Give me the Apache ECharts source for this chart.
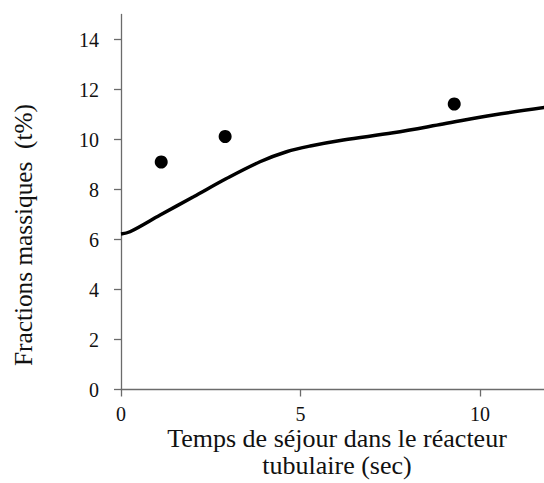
<!DOCTYPE html>
<html>
<head>
<meta charset="utf-8">
<script src="https://cdn.jsdelivr.net/npm/echarts@6/dist/echarts.min.js"></script>
<style>
  html, body { margin: 0; padding: 0; background: #fff; }
  #chart { width: 544px; height: 483px; }
</style>
</head>
<body>
<div id="chart"></div>
<script>
// Modelled mass fraction vs residence time (solid curve)
const modelTime = [0, 0.25, 1.09, 2.02, 2.95, 3.87, 4.61, 5.27, 6.19, 7.58, 8.97, 10.37, 11.8];
const modelFraction = [6.22, 6.31, 6.98, 7.71, 8.45, 9.11, 9.51, 9.74, 9.98, 10.27, 10.62, 10.98, 11.28];

// Measured mass fractions (dots)
const expTime = [1.12, 2.9, 9.28];
const expFraction = [9.1, 10.12, 11.42];

// Axis tick values
const xTicks = [0, 5, 10];
const yTicks = [0, 2, 4, 6, 8, 10, 12, 14];

const xTitle = 'Temps de séjour dans le réacteur\ntubulaire (sec)';
const yTitle = 'Fractions massiques  (t%)';

const font = 'Liberation Serif';
const axisGray = '#6b6b6b';

const chart = echarts.init(document.getElementById('chart'), null, { renderer: 'svg' });

// show only the listed tick values as labels
const tickFormatter = (ticks) => (v) => (ticks.indexOf(v) >= 0 ? String(v) : '');

chart.setOption({
  animation: false,
  backgroundColor: '#ffffff',
  textStyle: { fontFamily: font, color: '#111' },
  grid: { left: 121, right: 0, top: 14.5, bottom: 93.5, containLabel: false, outerBoundsMode: 'none' },
  xAxis: {
    type: 'value',
    min: 0,
    max: 11.78,
    interval: 5,
    name: xTitle,
    nameLocation: 'middle',
    nameGap: 35,
    nameMoveOverlap: false,
    nameTextStyle: { fontFamily: font, fontSize: 26, color: '#111', lineHeight: 27, padding: [0, 0, 0, 9] },
    axisLine: { show: true, lineStyle: { color: axisGray, width: 1.3 } },
    axisTick: { show: true, inside: false, length: 7, customValues: xTicks, lineStyle: { color: axisGray, width: 1.3 } },
    axisLabel: { formatter: tickFormatter(xTicks), showMaxLabel: false, margin: 14, fontFamily: font, fontSize: 20, color: '#111' },
    splitLine: { show: false }
  },
  yAxis: {
    type: 'value',
    min: 0,
    max: 15,
    interval: 2,
    name: yTitle,
    nameLocation: 'middle',
    nameGap: 86,
    nameMoveOverlap: false,
    nameTextStyle: { fontFamily: font, fontSize: 25.3, color: '#111', padding: [0, 66, 0, 0] },
    axisLine: { show: true, lineStyle: { color: axisGray, width: 1.3 } },
    axisTick: { show: true, inside: false, length: 7, customValues: yTicks, lineStyle: { color: axisGray, width: 1.3 } },
    axisLabel: { formatter: tickFormatter(yTicks), showMaxLabel: false, margin: 22, fontFamily: font, fontSize: 20, color: '#111' },
    splitLine: { show: false }
  },
  series: [
    {
      type: 'line',
      data: modelTime.map((t, i) => [t, modelFraction[i]]),
      smooth: 0.35,
      showSymbol: false,
      symbol: 'none',
      clip: true,
      lineStyle: { color: '#000', width: 3.5 }
    },
    {
      type: 'scatter',
      data: expTime.map((t, i) => [t, expFraction[i]]),
      symbol: 'circle',
      symbolSize: 13,
      itemStyle: { color: '#000', opacity: 1 }
    }
  ]
});
</script>
</body>
</html>
